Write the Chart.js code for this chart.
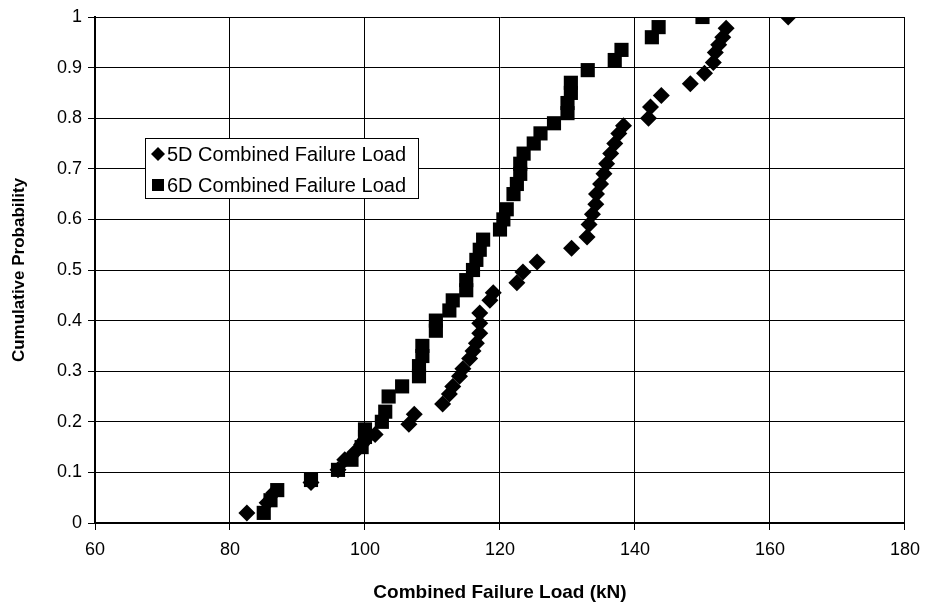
<!DOCTYPE html>
<html>
<head>
<meta charset="utf-8">
<script src="https://cdn.jsdelivr.net/npm/chart.js@4.4.0/dist/chart.umd.min.js"></script>
<style>
  html, body { margin: 0; padding: 0; background: #fff; }
  #wrap { width: 929px; height: 613px; }
</style>
</head>
<body>
<div id="wrap"><canvas id="cdf-chart" width="929" height="613"></canvas></div>
<script>
// values
const load5D = [82.5, 85.5, 86.5, 92, 96, 97, 98.5, 99.5, 100, 101.5, 106.5, 107.3, 111.5, 112.5, 113, 114,
    114.5, 115.5, 116, 116.5, 117, 117, 117, 118.5, 119, 122.5, 123.4, 125.5, 130.6, 132.9, 133.2, 133.7,
    134.2, 134.3, 134.9, 135.4, 135.8, 136.4, 137, 137.6, 138.3, 142, 142.3, 143.9, 148.2, 150.3, 151.6,
    151.9, 152.4, 153, 153.5, 162.7];
const prob5D = [0.02, 0.04, 0.06, 0.08, 0.105, 0.125, 0.14, 0.155, 0.165, 0.175, 0.195, 0.215, 0.235, 0.255,
    0.27, 0.29, 0.305, 0.325, 0.34, 0.355, 0.375, 0.395, 0.415, 0.44, 0.455, 0.475, 0.496, 0.516, 0.543,
    0.565, 0.59, 0.61, 0.63, 0.65, 0.67, 0.69, 0.71, 0.73, 0.75, 0.77, 0.785, 0.8, 0.822, 0.845, 0.868,
    0.889, 0.91, 0.93, 0.945, 0.96, 0.978, 1.0];

const load6D = [85, 86, 87, 92, 96, 98, 99.5, 100, 100, 102.5, 103, 103.5, 105.5, 108, 108, 108.5, 108.5,
    110.5, 110.5, 112.5, 113, 115, 115, 116, 116.5, 117, 117.5, 120, 120.5, 121, 122, 122.5, 123, 123,
    123.5, 125, 126, 128, 130, 130, 130.5, 130.5, 133, 137, 138, 142.5, 143.5, 150];
const prob6D = [0.02, 0.045, 0.065, 0.085, 0.105, 0.125, 0.15, 0.17, 0.185, 0.2, 0.22, 0.25, 0.27, 0.29,
    0.31, 0.33, 0.35, 0.38, 0.4, 0.42, 0.44, 0.46, 0.48, 0.5, 0.52, 0.54, 0.56, 0.58, 0.6, 0.62, 0.65,
    0.67, 0.69, 0.71, 0.73, 0.75, 0.77, 0.79, 0.81, 0.83, 0.85, 0.87, 0.895, 0.915, 0.935, 0.96, 0.98, 1.0];

const xTicks = [60, 80, 100, 120, 140, 160, 180];
const yTicks = [0, 0.1, 0.2, 0.3, 0.4, 0.5, 0.6, 0.7, 0.8, 0.9, 1];

function toPoints(xs, ys) {
    return xs.map((x, i) => ({ x: x, y: ys[i] }));
}

Chart.defaults.font.family = '"Liberation Sans", Arial, sans-serif';
Chart.defaults.color = '#000';

// legend drawn as a boxed panel inside the plot, like the original
const boxLegend = {
    id: 'boxLegend',
    afterDraw(chart) {
        const ctx = chart.ctx;
        const left = 145, top = 138, w = 273, h = 60;
        ctx.save();
        ctx.fillStyle = '#fff';
        ctx.fillRect(left, top, w, h);
        ctx.strokeStyle = '#000';
        ctx.lineWidth = 1;
        ctx.strokeRect(left + 0.5, top + 0.5, w, h);
        ctx.font = '20px "Liberation Sans", Arial, sans-serif';
        ctx.textBaseline = 'middle';
        chart.data.datasets.forEach((ds, i) => {
            const y = top + 16 + i * 31;
            ctx.fillStyle = '#000';
            Chart.helpers.drawPoint(ctx, {
                pointStyle: ds.pointStyle,
                radius: ds.pointStyle === 'rect' ? 8.5 : 7,
                borderWidth: 0
            }, left + 13, y);
            ctx.fillText(ds.label, left + 22, y + 1);
        });
        ctx.restore();
    }
};

new Chart(document.getElementById('cdf-chart'), {
    type: 'scatter',
    data: {
        datasets: [
            {
                label: '5D Combined Failure Load',
                data: toPoints(load5D, prob5D),
                pointStyle: 'rectRot',
                pointRadius: 8.5,
                backgroundColor: '#000',
                borderColor: '#000',
                borderWidth: 0
            },
            {
                label: '6D Combined Failure Load',
                data: toPoints(load6D, prob6D),
                pointStyle: 'rect',
                pointRadius: 10,
                backgroundColor: '#000',
                borderColor: '#000',
                borderWidth: 0
            }
        ]
    },
    options: {
        responsive: false,
        animation: false,
        layout: { padding: { top: 17, right: 22, left: 0, bottom: 0 } },
        plugins: {
            legend: { display: false },
            tooltip: { enabled: false }
        },
        scales: {
            x: {
                type: 'linear',
                min: 60,
                max: 180,
                afterBuildTicks: s => { s.ticks = xTicks.map(v => ({ value: v })); },
                afterFit: s => { s.height = 90; },
                grid: { color: '#000', lineWidth: 1, tickLength: 7, tickColor: '#000' },
                border: { color: '#000', width: 2 },
                ticks: { font: { size: 18 }, padding: 9, callback: v => String(v) },
                title: {
                    display: true,
                    text: 'Combined Failure Load (kN)',
                    font: { size: 19, weight: 'bold' },
                    padding: { top: 4, bottom: 9 }
                }
            },
            y: {
                type: 'linear',
                min: 0,
                max: 1,
                afterBuildTicks: s => { s.ticks = yTicks.map(v => ({ value: v })); },
                afterFit: s => { s.width = 95; },
                grid: { color: '#000', lineWidth: 1, tickLength: 7, tickColor: '#000' },
                border: { color: '#000', width: 2 },
                ticks: { font: { size: 18 }, padding: 6, callback: v => String(+v.toFixed(1)) },
                title: {
                    display: true,
                    text: 'Cumulative Probability',
                    font: { size: 17, weight: 'bold' },
                    padding: { top: 9, bottom: 0 }
                }
            }
        }
    },
    plugins: [boxLegend]
});
</script>
</body>
</html>
